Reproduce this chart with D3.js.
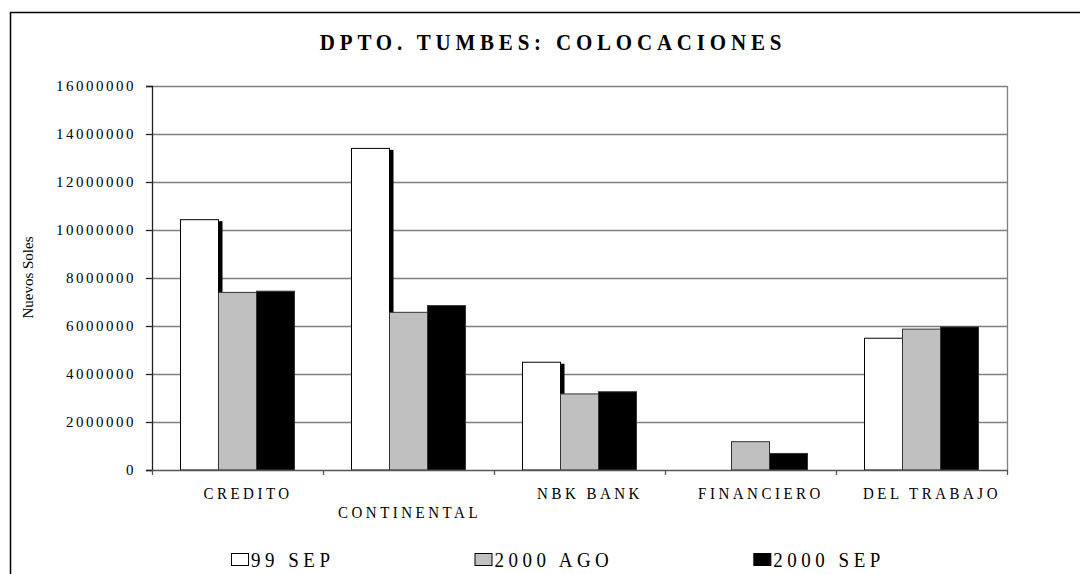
<!DOCTYPE html>
<html>
<head>
<meta charset="utf-8">
<script src="https://cdnjs.cloudflare.com/ajax/libs/d3/7.8.5/d3.min.js"></script>
<style>
  html, body { margin: 0; padding: 0; background: #fff; }
  svg { display: block; }
  text { font-family: "Liberation Serif", "Times New Roman", serif; fill: #000; }
</style>
</head>
<body>
<script>
// ---- data ----
const categories = ["CREDITO", "CONTINENTAL", "NBK BANK", "FINANCIERO", "DEL TRABAJO"];
const seriesNames = ["99 SEP", "2000 AGO", "2000 SEP"];
const sep1999 = [10430000, 13400000, 4490000, 0, 5490000];
const ago2000 = [7400000, 6570000, 3170000, 1180000, 5870000];
const sep2000 = [7450000, 6850000, 3260000, 690000, 5960000];
const yTicks = [0, 2000000, 4000000, 6000000, 8000000, 10000000, 12000000, 14000000, 16000000];
const labelRow = [0, 1, 0, 0, 0];
const titleText = "DPTO. TUMBES: COLOCACIONES";
const yTitle = "Nuevos Soles";
const seriesColors = ["#ffffff", "#c0c0c0", "#000000"];

const seriesValues = [sep1999, ago2000, sep2000];

(function () {
const W = 1080, H = 574;
const svg = d3.select("body").append("svg").attr("width", W).attr("height", H);

// outer chart border (cropped right/bottom)
svg.append("rect").attr("x", 10.5).attr("y", 12.5).attr("width", 1100).attr("height", 600)
  .attr("fill", "none").attr("stroke", "#000").attr("stroke-width", 1.5);

const pLeft = 152, pRight = 1007, pTop = 86, pBottom = 470;
const x = d3.scaleBand().domain(categories).range([pLeft, pRight]).padding(0);
const xs = d3.scaleBand().domain(seriesNames).range([28.5, x.bandwidth() - 28.5]).padding(0);
const y = d3.scaleLinear().domain([0, 16000000]).range([pBottom, pTop]);

// gridlines
svg.append("g").selectAll("line").data(yTicks.filter(d => d > 0)).join("line")
  .attr("x1", pLeft).attr("x2", pRight)
  .attr("y1", d => y(d) + 0.5).attr("y2", d => y(d) + 0.5)
  .attr("stroke", "#808080").attr("stroke-width", 1.3);
// right plot border
svg.append("line").attr("x1", pRight + 0.5).attr("x2", pRight + 0.5)
  .attr("y1", y(16000000)).attr("y2", pBottom)
  .attr("stroke", "#808080").attr("stroke-width", 1.3);

// bars
const groups = svg.append("g").selectAll("g").data(categories).join("g")
  .attr("transform", c => `translate(${x(c)},0)`);

// shadow strip on right edge of first series
groups.append("rect")
  .attr("x", xs(seriesNames[0]) + xs.bandwidth())
  .attr("width", 4)
  .attr("y", c => y(sep1999[categories.indexOf(c)]) + 1.5)
  .attr("height", c => Math.max(0, pBottom - y(sep1999[categories.indexOf(c)]) - 1.5))
  .attr("fill", "#000");

seriesNames.forEach((s, si) => {
  groups.append("rect")
    .attr("x", xs(s))
    .attr("width", xs.bandwidth())
    .attr("y", c => y(seriesValues[si][categories.indexOf(c)]))
    .attr("height", c => pBottom - y(seriesValues[si][categories.indexOf(c)]))
    .attr("fill", seriesColors[si])
    .attr("stroke", si === 0 ? "#000" : "#333")
    .attr("stroke-width", 1)
    .attr("display", c => seriesValues[si][categories.indexOf(c)] > 0 ? null : "none");
});

// y axis
const yAxis = svg.append("g").attr("transform", `translate(${pLeft},0)`)
  .call(d3.axisLeft(y).tickValues(yTicks).tickSize(6).tickPadding(10).tickFormat(d3.format("d")));
yAxis.select(".domain").attr("stroke", "#222").attr("stroke-width", 1.3);
yAxis.selectAll(".tick line").attr("stroke", "#222").attr("stroke-width", 1.3);
yAxis.selectAll(".tick text")
  .attr("font-family", "Liberation Serif, serif")
  .attr("font-size", 15).attr("letter-spacing", "2.5px").attr("fill", "#000");

// x axis line and ticks at band boundaries
svg.append("line").attr("x1", pLeft).attr("x2", pRight).attr("y1", pBottom + 0.5).attr("y2", pBottom + 0.5)
  .attr("stroke", "#555").attr("stroke-width", 1.3);
const bounds = categories.map(c => x(c)).concat([x(categories[categories.length - 1]) + x.bandwidth()]);
svg.append("g").selectAll("line").data(bounds).join("line")
  .attr("x1", d => d + 0.5).attr("x2", d => d + 0.5)
  .attr("y1", pBottom).attr("y2", pBottom + 5)
  .attr("stroke", "#555").attr("stroke-width", 1.3);

// category labels (slightly tall glyphs as in the source)
svg.append("g").selectAll("text").data(categories).join("text")
  .attr("transform", (c, i) => {
    const tx = x(c) + x.bandwidth() / 2 + (labelRow[i] === 0 ? 10.5 : 1);
    const ty = labelRow[i] === 0 ? 499 : 518.3;
    return `translate(${tx},${ty}) scale(1,1.15)`;
  })
  .attr("text-anchor", "middle")
  .attr("font-size", 15).attr("letter-spacing", "3.5px")
  .text(c => c);

// title
svg.append("text").attr("transform", "translate(553,49.5) scale(1,1.1)").attr("text-anchor", "middle")
  .attr("font-size", 21).attr("font-weight", "bold").attr("letter-spacing", "4.8px")
  .text(titleText);

// y title
svg.append("text").attr("transform", "translate(33,277.5) rotate(-90)")
  .attr("text-anchor", "middle").attr("font-size", 15).text(yTitle);

// legend
const legend = svg.append("g");
let lx = 231;
seriesNames.forEach((s, i) => {
  legend.append("rect").attr("x", lx + 0.5).attr("y", 553.5).attr("width", 17).attr("height", 12)
    .attr("fill", seriesColors[i]).attr("stroke", "#000").attr("stroke-width", 1);
  const t = legend.append("text").attr("transform", `translate(${lx + 20},566.7) scale(1,1.1)`)
    .attr("font-size", 19).attr("letter-spacing", "4.5px").text(s);
  const w = t.node().getComputedTextLength();
  lx = lx + 20 + w + 140;
});
})();
</script>
</body>
</html>
